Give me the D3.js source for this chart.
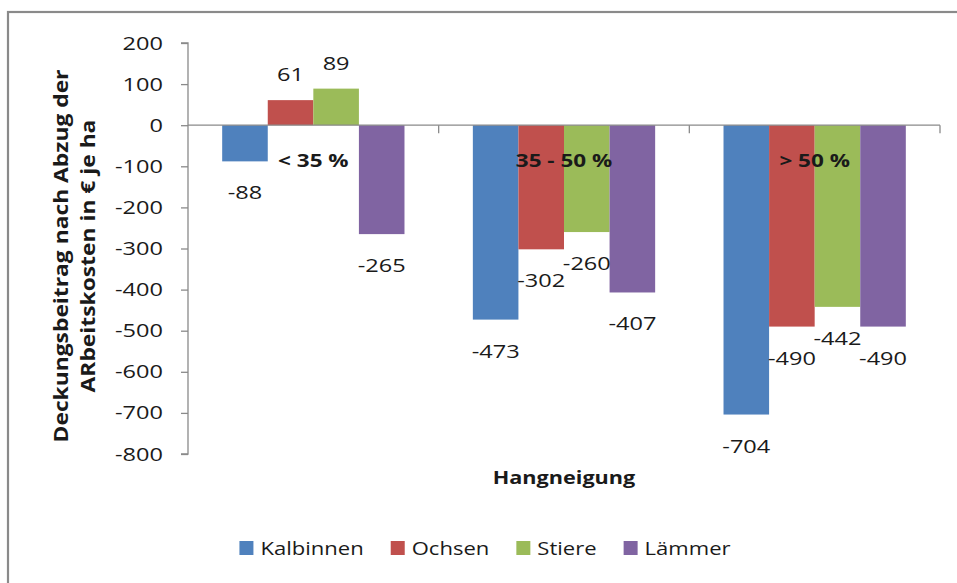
<!DOCTYPE html>
<html><head><meta charset="utf-8">
<script src="https://cdn.jsdelivr.net/npm/d3@7"></script>
<style>
html,body{margin:0;padding:0;background:#fff;}
svg{display:block;}
text{font-family:"Open Sans",sans-serif;fill:#1a1a1a;}
</style></head>
<body>
<svg id="chart" width="957" height="583"></svg>
<script>
const categories = ["< 35 %", "35 - 50 %", "> 50 %"];
const seriesNames = ["Kalbinnen", "Ochsen", "Stiere", "Lämmer"];
const kalbinnen = [-88, -473, -704];
const ochsen = [61, -302, -490];
const stiere = [89, -260, -442];
const laemmer = [-265, -407, -490];
const seriesColors = ["#4f81bd", "#c0504d", "#9bbb59", "#8064a2"];
const yTicks = [200, 100, 0, -100, -200, -300, -400, -500, -600, -700, -800];
const yTitle = ["Deckungsbeitrag nach Abzug der", "ARbeitskosten in € je ha"];
const xTitle = "Hangneigung";

(function () {
const seriesValues = [kalbinnen, ochsen, stiere, laemmer];
const svg = d3.select("#chart");
const SX = 1.24;   // horizontal text stretch seen in the reference
const SXL = 1.16;
function stretch(sel, sx) {
  sel.each(function () {
    const t = d3.select(this);
    const x = +t.attr("x") || 0, y = +t.attr("y") || 0;
    t.attr("x", 0).attr("y", 0).attr("transform", `translate(${x},${y}) scale(${sx},1)`);
  });
}

// outer frame
svg.append("rect").attr("x", 8).attr("y", 12).attr("width", 1000).attr("height", 700)
  .attr("fill", "#fff").attr("stroke", "#8a8a8a").attr("stroke-width", 2.2);

const pLeft = 188, pRight = 940, pTop = 43, pBottom = 454;
const y = d3.scaleLinear().domain([-800, 200]).range([pBottom, pTop]);
const x0 = d3.scaleBand().domain(categories).range([pLeft, pRight]).padding(0);
const bw = x0.bandwidth();
const gap = bw * 1.5 / (seriesNames.length + 1.5);
const x1 = d3.scaleBand().domain(seriesNames).range([gap / 2, bw - gap / 2]).padding(0);

// y axis
const yAxis = d3.axisLeft(y).tickValues(yTicks).tickSize(7).tickPadding(18).tickFormat(d => String(d));
const gy = svg.append("g").attr("transform", `translate(${pLeft},0)`).call(yAxis);
gy.select(".domain").attr("stroke", "#8a8a8a").attr("stroke-width", 1.3).attr("d", `M-7,${pTop}H0V${pBottom}H-7`);
gy.selectAll(".tick line").attr("stroke", "#8a8a8a").attr("stroke-width", 1.3);
gy.selectAll(".tick text").style("font-family", "'Open Sans',sans-serif").style("font-size", "19px").attr("fill", "#1a1a1a");
stretch(gy.selectAll(".tick text"), SX);

// bars
const groups = svg.append("g").selectAll("g").data(categories).join("g")
  .attr("transform", d => `translate(${x0(d)},0)`);
groups.selectAll("rect").data((c, i) => seriesNames.map((s, j) => ({s, j, v: seriesValues[j][i]})))
  .join("rect")
  .attr("x", d => x1(d.s))
  .attr("width", x1.bandwidth())
  .attr("y", d => y(Math.max(0, d.v)))
  .attr("height", d => Math.abs(y(d.v) - y(0)))
  .attr("fill", d => seriesColors[d.j]);

// zero axis line with ticks
const xAxis = d3.axisBottom(x0).tickSize(0).tickFormat("");
const gx = svg.append("g").attr("transform", `translate(0,${y(0)})`).call(xAxis);
gx.select(".domain").attr("stroke", "#8a8a8a").attr("stroke-width", 1.3).attr("d", `M${pLeft},0H${pRight}`);
const bounds = categories.map(c => x0(c)).concat([pRight]);
gx.selectAll(".bound").data(bounds.slice(1)).join("line")
  .attr("x1", d => d).attr("x2", d => d).attr("y1", 0).attr("y2", 8)
  .attr("stroke", "#8a8a8a").attr("stroke-width", 1.3);

// category labels
const cl = svg.append("g").selectAll("text").data(categories).join("text")
  .attr("x", d => x0(d) + bw / 2).attr("y", y(0) + 42)
  .attr("text-anchor", "middle")
  .style("font-size", "18px").style("font-weight", "bold").attr("fill", "#000")
  .text(d => d);
stretch(cl, 1.25);

// data labels
const dl = groups.selectAll("text").data((c, i) => seriesNames.map((s, j) => ({s, j, v: seriesValues[j][i]})))
  .join("text")
  .attr("x", d => x1(d.s) + x1.bandwidth() / 2)
  .attr("y", d => d.v >= 0 ? y(d.v) - 19 : y(d.v) + 38)
  .attr("text-anchor", "middle")
  .style("font-size", "19px")
  .text(d => d.v);
stretch(dl, SX);

// y title
const yt = svg.append("text").attr("transform", "translate(68,256) rotate(-90) scale(1.17,1)")
  .attr("text-anchor", "middle").style("font-size", "19.5px").style("font-weight", "bold").attr("fill", "#000");
yt.append("tspan").attr("x", 0).attr("dy", 0).text(yTitle[0]);
yt.append("tspan").attr("x", 0).attr("dy", 27).text(yTitle[1]);

// x title
const xt = svg.append("text").attr("x", (pLeft + pRight) / 2).attr("y", 484).attr("text-anchor", "middle")
  .style("font-size", "18.5px").style("font-weight", "bold").attr("fill", "#000").text(xTitle);
stretch(xt, 1.17);

// legend
const lg = svg.append("g");
const items = lg.selectAll("g").data(seriesNames).join("g");
items.append("rect").attr("width", 14).attr("height", 14).attr("y", -7).attr("fill", (d, i) => seriesColors[i]);
const lt = items.append("text").attr("x", 21).attr("y", 0).attr("dy", "0.35em").style("font-size", "19px").text(d => d);
const widths = [];
lt.each(function () { widths.push(this.getComputedTextLength() * SXL); });
stretch(lt, SXL);
let xpos = 0;
items.attr("transform", (d, i) => { const t = `translate(${xpos},0)`; xpos += 21 + widths[i] + 27; return t; });
const total = xpos - 27;
lg.attr("transform", `translate(${485 - total / 2},548)`);
})();
</script>
</body></html>
